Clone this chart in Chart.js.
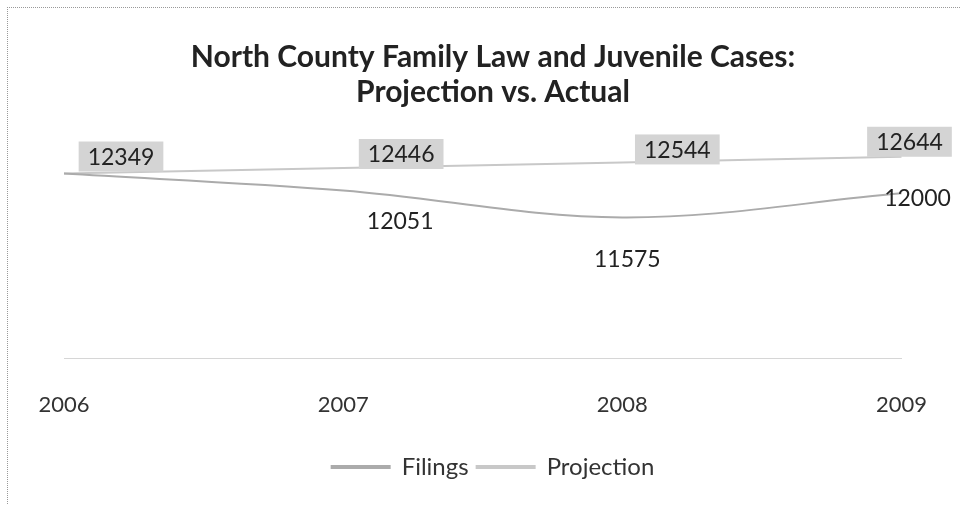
<!DOCTYPE html>
<html>
<head>
<meta charset="utf-8">
<script src="https://cdn.jsdelivr.net/npm/chart.js@4/dist/chart.umd.min.js"></script>
<style>
  html, body { margin: 0; padding: 0; background: #fff; }
  #wrap { position: relative; width: 961px; height: 505px; overflow: hidden; }
  #frame { position: absolute; left: 7px; top: 7px; width: 1000px; height: 600px;
           border-left: 1px dotted #999; border-top: 1px dotted #999; pointer-events: none; }
</style>
</head>
<body>
<div id="wrap">
  <canvas id="myChart" width="961" height="505"></canvas>
  <div id="frame"></div>
</div>
<script>
var years = ["2006", "2007", "2008", "2009"];
var filings = [12349, 12051, 11575, 12000];
var projection = [12349, 12446, 12544, 12644];

// where each value label sits relative to its point (px)
var projectionLabelOffsets = [[57, -17], [58, -14], [55, -13], [8, -15]];
var filingsLabelOffsets = [null, [57, 30], [5, 41], [16, 4]];

var valueLabels = {
  id: "valueLabels",
  afterDatasetsDraw: function(chart) {
    var c = chart.ctx;
    c.save();
    c.font = "23px Lato";
    c.textAlign = "center";
    c.textBaseline = "middle";
    chart.data.datasets.forEach(function(ds, di) {
      var meta = chart.getDatasetMeta(di);
      meta.data.forEach(function(pt, i) {
        var off = ds.labelOffsets[i];
        if (!off) return;
        var x = pt.x + off[0];
        var y = pt.y + off[1];
        var txt = String(ds.data[i]);
        if (ds.labelBox) {
          var w = c.measureText(txt).width + 18;
          c.fillStyle = "#d4d4d4";
          c.fillRect(x - w / 2, y - 15, w, 30);
        }
        c.fillStyle = "#222";
        c.fillText(txt, x, y + 1);
      });
    });
    c.restore();
  }
};

var ctx = document.getElementById("myChart");
var myChart = new Chart(ctx, {
  type: "line",
  data: {
    labels: years,
    datasets: [
      {
        label: "Filings",
        data: filings,
        borderColor: "#ababab",
        backgroundColor: "#ababab",
        borderWidth: 2,
        pointRadius: 0,
        tension: 0.35,
        labelOffsets: filingsLabelOffsets,
        labelBox: false
      },
      {
        label: "Projection",
        data: projection,
        borderColor: "#c8c8c8",
        backgroundColor: "#c8c8c8",
        borderWidth: 2,
        pointRadius: 0,
        tension: 0.35,
        labelOffsets: projectionLabelOffsets,
        labelBox: true
      }
    ]
  },
  options: {
    responsive: false,
    animation: false,
    layout: { padding: { left: 64, right: 39, top: 0, bottom: 16 } },
    plugins: {
      title: {
        display: true,
        text: ["North County Family Law and Juvenile Cases:", "Projection vs. Actual"],
        color: "#222",
        font: { family: "Lato", size: 30, weight: "bold", lineHeight: 1.17 },
        padding: { top: 40, bottom: 36 }
      },
      legend: {
        position: "bottom",
        labels: {
          color: "#333",
          font: { family: "Lato", size: 24 },
          boxWidth: 58,
          boxHeight: 2,
          padding: 8
        }
      },
      tooltip: { enabled: false }
    },
    scales: {
      x: {
        offset: false,
        grid: { color: "rgba(0,0,0,0)", drawTicks: false },
        border: { display: true, color: "#d6d6d6", width: 1, dash: [2, 3] },
        ticks: { color: "#333", font: { family: "Lato", size: 22 }, padding: 34, maxRotation: 0 },
        afterFit: function(scale) { scale.height = 89; }
      },
      y: {
        display: false,
        min: 9100,
        max: 12830
      }
    }
  },
  plugins: [valueLabels]
});
</script>
</body>
</html>
